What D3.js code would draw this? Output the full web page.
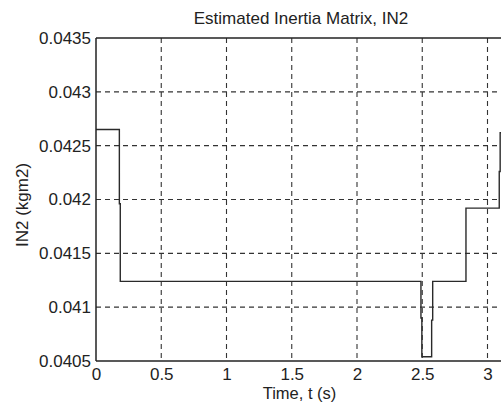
<!DOCTYPE html>
<html>
<head>
<meta charset="utf-8">
<script src="https://cdn.jsdelivr.net/npm/d3@7"></script>
<style>
  html, body { margin: 0; padding: 0; background: #fff; overflow: hidden; }
  svg { display: block; }
  text { font-family: "Liberation Sans", Arial, sans-serif; fill: #222; }
</style>
</head>
<body>
<svg id="chart" width="501" height="407"></svg>
<script>
// ---- data ----
const timeValues = [0, 0.179, 0.179, 0.186, 0.186, 2.49, 2.49, 2.497, 2.497, 2.572, 2.572, 2.58, 2.58, 2.835, 2.835, 3.09, 3.09, 3.097, 3.097, 3.3];
const in2Values  = [0.04265, 0.04265, 0.04196, 0.04196, 0.04124, 0.04124, 0.0409, 0.0409, 0.04054, 0.04054, 0.04088, 0.04088, 0.04124, 0.04124, 0.04192, 0.04192, 0.04226, 0.04226, 0.04262, 0.04262];
const xTicks = [0, 0.5, 1, 1.5, 2, 2.5, 3];
const xTickLabels = ["0", "0.5", "1", "1.5", "2", "2.5", "3"];
const yTicks = [0.0405, 0.041, 0.0415, 0.042, 0.0425, 0.043, 0.0435];
const yTickLabels = ["0.0405", "0.041", "0.0415", "0.042", "0.0425", "0.043", "0.0435"];
const titleText = "Estimated Inertia Matrix, IN2";
const xLabel = "Time, t (s)";
const yLabel = "IN2 (kgm2)";

(function () {
// ---- layout ----
const svg = d3.select("#chart");
const mLeft = 96, mBottom = 361, mTop = 38;
const x = d3.scaleLinear().domain([0, 3.5]).range([mLeft, mLeft + 3.5 * 130.5]);
const y = d3.scaleLinear().domain([0.0405, 0.0435]).range([mBottom, mTop]);
const W = 501;

// grid
const grid = svg.append("g").attr("stroke", "#333").attr("stroke-width", 1.1).attr("stroke-dasharray", "5,4");
grid.selectAll("line.v").data(xTicks.slice(1)).join("line").attr("class", "v")
  .attr("x1", d => x(d)).attr("x2", d => x(d)).attr("y1", mTop).attr("y2", mBottom);
grid.selectAll("line.h").data(yTicks.slice(1, -1)).join("line").attr("class", "h")
  .attr("x1", mLeft).attr("x2", W).attr("y1", d => y(d)).attr("y2", d => y(d));

// data line
const pts = timeValues.map((t, i) => [t, in2Values[i]]);
svg.append("path").datum(pts)
  .attr("fill", "none").attr("stroke", "#2a2a2a").attr("stroke-width", 1.4)
  .attr("d", d3.line().x(d => x(d[0])).y(d => y(d[1])));

// axes
const xAxis = d3.axisBottom(x).tickValues(xTicks).tickFormat((d, i) => xTickLabels[i]).tickSize(0).tickPadding(7);
const yAxis = d3.axisLeft(y).tickValues(yTicks).tickFormat((d, i) => yTickLabels[i]).tickSize(0).tickPadding(5);
const gx = svg.append("g").attr("transform", `translate(0,${mBottom})`).call(xAxis);
const gy = svg.append("g").attr("transform", `translate(${mLeft},0)`).call(yAxis);
[gx, gy].forEach(g => {
  g.select(".domain").remove();
  g.selectAll("text").attr("font-size", 17).attr("fill", "#222")
    .attr("font-family", "Liberation Sans, Arial, sans-serif");
});

// box
svg.append("line").attr("x1", mLeft).attr("x2", W).attr("y1", mTop).attr("y2", mTop).attr("stroke", "#222").attr("stroke-width", 1.5);
svg.append("line").attr("x1", mLeft).attr("x2", W).attr("y1", mBottom).attr("y2", mBottom).attr("stroke", "#222").attr("stroke-width", 1.5);
svg.append("line").attr("x1", mLeft).attr("x2", mLeft).attr("y1", mTop).attr("y2", mBottom).attr("stroke", "#222").attr("stroke-width", 1.5);

// titles
svg.append("text").attr("x", 301).attr("y", 24).attr("text-anchor", "middle").attr("font-size", 17).text(titleText);
svg.append("text").attr("x", 299.5).attr("y", 399).attr("text-anchor", "middle").attr("font-size", 16.5).text(xLabel);
svg.append("text").attr("transform", "translate(28,205) rotate(-90)").attr("text-anchor", "middle").attr("font-size", 17).text(yLabel);
})();
</script>
</body>
</html>
